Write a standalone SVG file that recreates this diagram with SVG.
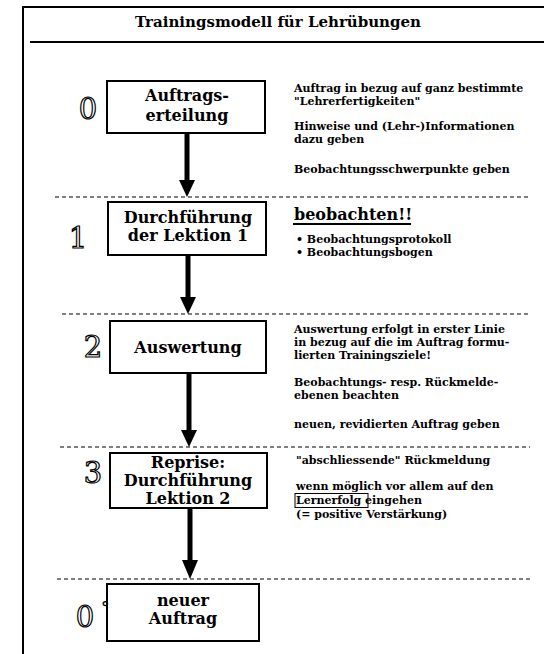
<svg xmlns="http://www.w3.org/2000/svg" width="544" height="654" viewBox="0 0 544 654">
<defs>
<style>
.frame{stroke:#000;stroke-width:2;fill:none}
.box{fill:#fff;stroke:#000;stroke-width:2}
.lbl{font-family:"DejaVu Serif","Liberation Serif",serif;font-weight:bold;font-size:16px;text-anchor:middle;fill:#000}
.num{font-family:"DejaVu Serif","Liberation Serif",serif;font-size:29px;fill:#fff;stroke:#000;stroke-width:1.2;text-anchor:middle}
.txt{font-family:"DejaVu Serif","Liberation Serif",serif;font-weight:bold;font-size:11px;fill:#000}
.dot{stroke:#000;stroke-width:1.2;stroke-dasharray:4 3;fill:none}
.shaft{stroke:#000;stroke-width:5;fill:none}
.head{fill:#000}
</style>
</defs>
<rect width="544" height="654" fill="#fff"/>
<g id="frame">
<path class="frame" d="M23,654 L23,7 L544,7"/>
<path stroke="#000" stroke-width="2.2" fill="none" d="M30,42 L544,42"/>
<text x="278" y="27" style="font-family:'DejaVu Serif','Liberation Serif',serif;font-weight:bold;font-size:15px;text-anchor:middle">Trainingsmodell für Lehrübungen</text>
</g>
<g id="separators">
<path class="dot" d="M55,197 L530,197"/>
<path class="dot" d="M62,314 L530,314"/>
<path class="dot" d="M60,447 L530,447"/>
<path class="dot" d="M57,579 L530,579"/>
</g>
<g id="connectors">
<path class="shaft" d="M187,134 L187,181"/>
<path class="head" d="M179,180 L195,180 L187,197 Z"/>
<path class="shaft" d="M188,256 L188,298"/>
<path class="head" d="M180,297 L196,297 L188,314 Z"/>
<path class="shaft" d="M189,374 L189,431"/>
<path class="head" d="M181,430 L197,430 L189,447 Z"/>
<path class="shaft" d="M190,509 L190,561"/>
<path class="head" d="M182,560 L198,560 L190,579 Z"/>
</g>
<g id="node0">
<rect class="box" x="107" y="81" width="158" height="52"/>
<text class="lbl" x="187" y="101">Auftrags-</text>
<text class="lbl" x="187" y="121">erteilung</text>
<text class="num" x="88" y="119">0</text>
</g>
<g id="node1">
<rect class="box" x="108" y="202" width="158" height="53"/>
<text class="lbl" x="188" y="223">Durchführung</text>
<text class="lbl" x="188" y="241">der Lektion 1</text>
<text class="num" x="78" y="248">1</text>
</g>
<g id="node2">
<rect class="box" x="110" y="321" width="156" height="52"/>
<text class="lbl" x="188" y="353">Auswertung</text>
<text class="num" x="93" y="357">2</text>
</g>
<g id="node3">
<rect class="box" x="110" y="453" width="157" height="55"/>
<text class="lbl" x="188" y="468">Reprise:</text>
<text class="lbl" x="188" y="486">Durchführung</text>
<text class="lbl" x="188" y="504">Lektion 2</text>
<text class="num" x="93" y="483">3</text>
</g>
<g id="node4">
<rect class="box" x="107" y="584" width="152" height="57"/>
<text class="lbl" x="183" y="606">neuer</text>
<text class="lbl" x="183" y="624">Auftrag</text>
<text class="num" x="85" y="627">0</text>
<text x="101" y="614" style="font-family:'DejaVu Sans',sans-serif;font-size:17px;font-weight:bold">°</text>
</g>
<g id="notes">
<text class="txt" x="294" y="92">Auftrag in bezug auf ganz bestimmte</text>
<text class="txt" x="294" y="105">"Lehrerfertigkeiten"</text>
<text class="txt" x="294" y="130">Hinweise und (Lehr-)Informationen</text>
<text class="txt" x="294" y="143">dazu geben</text>
<text class="txt" x="294" y="173">Beobachtungsschwerpunkte geben</text>
<text class="txt" x="294" y="220" style="font-size:16px">beobachten!!</text>
<path d="M293,224 L411,224" stroke="#000" stroke-width="2"/>
<text class="txt" x="296" y="243">• Beobachtungsprotokoll</text>
<text class="txt" x="296" y="256">• Beobachtungsbogen</text>
<text class="txt" x="294" y="333">Auswertung erfolgt in erster Linie</text>
<text class="txt" x="294" y="346">in bezug auf die im Auftrag formu-</text>
<text class="txt" x="294" y="359">lierten Trainingsziele!</text>
<text class="txt" x="294" y="386">Beobachtungs- resp. Rückmelde-</text>
<text class="txt" x="294" y="399">ebenen beachten</text>
<text class="txt" x="294" y="428">neuen, revidierten Auftrag geben</text>
<text class="txt" x="296" y="464">"abschliessende" Rückmeldung</text>
<text class="txt" x="296" y="490">wenn möglich vor allem auf den</text>
<text class="txt" x="296" y="504">Lernerfolg eingehen</text>
<rect x="295" y="493.5" width="73" height="14" fill="none" stroke="#000" stroke-width="1"/>
<text class="txt" x="296" y="518">(= positive Verstärkung)</text>
</g>
</svg>
